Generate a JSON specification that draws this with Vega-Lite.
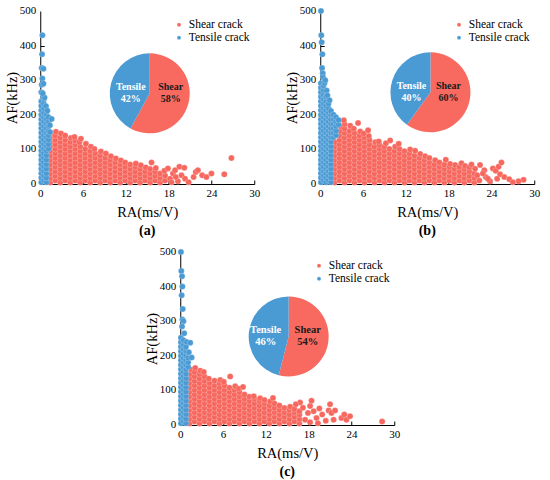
{
  "$schema": "https://vega.github.io/schema/vega-lite/v6.json",
  "background": "white",
  "padding": {"left": 4, "top": 5, "right": 5, "bottom": 2},
  "config": {
    "view": {"stroke": null},
    "font": "Liberation Serif",
    "axis": {
      "grid": false,
      "domainColor": "black",
      "tickColor": "black",
      "labelColor": "black",
      "titleColor": "black",
      "labelFont": "Liberation Serif",
      "titleFont": "Liberation Serif",
      "labelFontSize": 11,
      "titleFontSize": 14.5,
      "titleFontWeight": "normal",
      "labelOverlap": false,
      "labelFlush": false
    },
    "legend": {
      "orient": "none",
      "legendX": 133,
      "legendY": 8,
      "labelFont": "Liberation Serif",
      "labelFontSize": 11.5,
      "labelColor": "black",
      "symbolType": "circle",
      "symbolSize": 16,
      "symbolStrokeWidth": 0,
      "rowPadding": 0
    },
    "title": {"font": "Liberation Serif", "fontSize": 14, "fontWeight": "bold", "color": "black", "orient": "bottom", "anchor": "middle", "offset": 5},
    "circle": {"size": 36, "opacity": 1, "stroke": "white", "strokeWidth": 0.5, "strokeOpacity": 0.45}
  },
  "datasets": {
    "yt": [{"v": 0}, {"v": 100}, {"v": 200}, {"v": 300}, {"v": 400}, {"v": 500}],
    "pie": [
      {"p": "a", "type": "Shear", "v": 58, "o": 1, "lbl": ["Shear", "58%"]},
      {"p": "a", "type": "Tensile", "v": 42, "o": 2, "lbl": ["Tensile", "42%"]},
      {"p": "b", "type": "Shear", "v": 60, "o": 1, "lbl": ["Shear", "60%"]},
      {"p": "b", "type": "Tensile", "v": 40, "o": 2, "lbl": ["Tensile", "40%"]},
      {"p": "c", "type": "Shear", "v": 54, "o": 1, "lbl": ["Shear", "54%"]},
      {"p": "c", "type": "Tensile", "v": 46, "o": 2, "lbl": ["Tensile", "46%"]}
    ],
    "aS": [
      {"x":1.4,"y":4},{"x":1.4,"y":17},{"x":1.4,"y":30},{"x":1.4,"y":43},{"x":1.4,"y":56},{"x":1.4,"y":69},{"x":1.4,"y":82},{"x":1.4,"y":95},{"x":1.4,"y":108},{"x":1.4,"y":121},{"x":1.4,"y":134},{"x":1.5,"y":147},
      {"x":2.1,"y":10},{"x":2.1,"y":23},{"x":2.1,"y":36},{"x":2.1,"y":49},{"x":2.1,"y":62},{"x":2.1,"y":75},{"x":2.1,"y":88},{"x":2.1,"y":101},{"x":2.1,"y":114},{"x":2.1,"y":127},{"x":2.1,"y":140},{"x":2.2,"y":151},
      {"x":2.8,"y":4},{"x":2.8,"y":17},{"x":2.8,"y":30},{"x":2.8,"y":43},{"x":2.8,"y":56},{"x":2.8,"y":69},{"x":2.8,"y":82},{"x":2.8,"y":95},{"x":2.8,"y":108},{"x":2.8,"y":121},{"x":2.8,"y":134},{"x":2.9,"y":146},
      {"x":3.5,"y":10},{"x":3.5,"y":23},{"x":3.5,"y":36},{"x":3.5,"y":49},{"x":3.5,"y":62},{"x":3.5,"y":75},{"x":3.5,"y":88},{"x":3.5,"y":101},{"x":3.5,"y":114},{"x":3.5,"y":127},{"x":3.5,"y":140},
      {"x":4.2,"y":4},{"x":4.2,"y":17},{"x":4.2,"y":30},{"x":4.2,"y":43},{"x":4.2,"y":56},{"x":4.2,"y":69},{"x":4.2,"y":82},{"x":4.2,"y":95},{"x":4.2,"y":108},{"x":4.2,"y":121},{"x":4.3,"y":133},
      {"x":4.9,"y":10},{"x":4.9,"y":23},{"x":4.9,"y":36},{"x":4.9,"y":49},{"x":4.9,"y":62},{"x":4.9,"y":75},{"x":4.9,"y":88},{"x":4.9,"y":101},{"x":4.9,"y":114},{"x":4.9,"y":125},{"x":4.8,"y":136},
      {"x":5.6,"y":4},{"x":5.6,"y":17},{"x":5.6,"y":30},{"x":5.6,"y":43},{"x":5.6,"y":56},{"x":5.6,"y":69},{"x":5.6,"y":82},{"x":5.6,"y":95},{"x":5.6,"y":108},{"x":5.5,"y":121},{"x":5.7,"y":131},
      {"x":6.3,"y":10},{"x":6.3,"y":23},{"x":6.3,"y":36},{"x":6.3,"y":49},{"x":6.3,"y":62},{"x":6.3,"y":75},{"x":6.3,"y":88},{"x":6.3,"y":101},{"x":6.4,"y":116},
      {"x":7.0,"y":4},{"x":7.0,"y":17},{"x":7.0,"y":30},{"x":7.0,"y":43},{"x":7.0,"y":56},{"x":7.0,"y":69},{"x":7.0,"y":82},{"x":7.0,"y":95},{"x":7.1,"y":108},
      {"x":7.7,"y":10},{"x":7.7,"y":23},{"x":7.7,"y":36},{"x":7.7,"y":49},{"x":7.7,"y":62},{"x":7.7,"y":75},{"x":7.7,"y":88},{"x":7.6,"y":101},
      {"x":8.4,"y":4},{"x":8.4,"y":17},{"x":8.4,"y":30},{"x":8.4,"y":43},{"x":8.4,"y":56},{"x":8.4,"y":69},{"x":8.4,"y":82},{"x":8.5,"y":94},
      {"x":9.1,"y":10},{"x":9.1,"y":23},{"x":9.1,"y":36},{"x":9.1,"y":49},{"x":9.1,"y":62},{"x":9.1,"y":75},{"x":9.2,"y":88},
      {"x":9.8,"y":4},{"x":9.8,"y":17},{"x":9.8,"y":30},{"x":9.8,"y":43},{"x":9.8,"y":56},{"x":9.8,"y":69},{"x":9.9,"y":80},
      {"x":10.5,"y":10},{"x":10.5,"y":23},{"x":10.5,"y":36},{"x":10.5,"y":49},{"x":10.5,"y":62},{"x":10.6,"y":74},
      {"x":11.2,"y":4},{"x":11.2,"y":17},{"x":11.2,"y":30},{"x":11.2,"y":43},{"x":11.2,"y":56},{"x":11.3,"y":68},
      {"x":11.9,"y":10},{"x":11.9,"y":23},{"x":11.9,"y":36},{"x":11.9,"y":49},{"x":11.9,"y":62},
      {"x":12.6,"y":4},{"x":12.6,"y":17},{"x":12.6,"y":30},{"x":12.6,"y":43},{"x":12.6,"y":56},
      {"x":13.3,"y":10},{"x":13.3,"y":23},{"x":13.3,"y":36},{"x":13.3,"y":49},{"x":13.4,"y":59},
      {"x":14.0,"y":4},{"x":14.0,"y":17},{"x":14.0,"y":30},{"x":14.0,"y":43},{"x":14.1,"y":54},
      {"x":14.7,"y":10},{"x":14.7,"y":23},{"x":14.7,"y":36},{"x":14.8,"y":48},
      {"x":15.4,"y":4},{"x":15.4,"y":17},{"x":15.4,"y":30},{"x":15.4,"y":43},{"x":15.6,"y":62},
      {"x":16.1,"y":10},{"x":16.1,"y":23},{"x":16.1,"y":36},{"x":16.2,"y":46},
      {"x":16.8,"y":4},{"x":16.8,"y":17},{"x":16.8,"y":30},
      {"x":17.5,"y":10},{"x":17.5,"y":24},{"x":17.4,"y":38},
      {"x":18.2,"y":15},{"x":18.6,"y":30},{"x":18.9,"y":40},{"x":19.3,"y":8},{"x":19.5,"y":50},{"x":19.8,"y":25},{"x":20.2,"y":47},{"x":20.3,"y":15},{"x":20.8,"y":5},{"x":21.5,"y":20},{"x":21.8,"y":35},{"x":22.1,"y":40},{"x":22.7,"y":25},{"x":23.3,"y":20},{"x":24.0,"y":30},{"x":25.8,"y":28},{"x":26.8,"y":75},{"x":19.0,"y":20},{"x":17.9,"y":45},{"x":18.4,"y":5}
    ],
    "aT": [
      {"x":0.15,"y":5},{"x":0.15,"y":18},{"x":0.15,"y":31},{"x":0.15,"y":44},{"x":0.15,"y":57},{"x":0.15,"y":70},{"x":0.15,"y":83},{"x":0.15,"y":96},{"x":0.15,"y":109},{"x":0.15,"y":122},{"x":0.15,"y":135},{"x":0.15,"y":148},{"x":0.15,"y":161},{"x":0.15,"y":174},{"x":0.15,"y":187},{"x":0.15,"y":200},{"x":0.15,"y":213},{"x":0.15,"y":226},{"x":0.15,"y":239},
      {"x":0.5,"y":11},{"x":0.5,"y":24},{"x":0.5,"y":37},{"x":0.5,"y":50},{"x":0.5,"y":63},{"x":0.5,"y":76},{"x":0.5,"y":89},{"x":0.5,"y":102},{"x":0.5,"y":115},{"x":0.5,"y":128},{"x":0.5,"y":141},{"x":0.5,"y":154},{"x":0.5,"y":167},{"x":0.5,"y":180},{"x":0.5,"y":193},{"x":0.5,"y":206},{"x":0.5,"y":219},{"x":0.5,"y":232},{"x":0.5,"y":245},
      {"x":0.85,"y":5},{"x":0.85,"y":18},{"x":0.85,"y":31},{"x":0.85,"y":44},{"x":0.85,"y":57},{"x":0.85,"y":70},{"x":0.85,"y":83},{"x":0.85,"y":96},{"x":0.85,"y":109},{"x":0.85,"y":122},{"x":0.85,"y":135},{"x":0.85,"y":148},{"x":0.85,"y":161},{"x":0.85,"y":174},{"x":0.85,"y":187},{"x":0.85,"y":200},
      {"x":1.15,"y":102},{"x":1.15,"y":115},{"x":1.15,"y":128},{"x":1.15,"y":141},{"x":1.15,"y":154},{"x":1.15,"y":167},{"x":1.15,"y":180},{"x":1.15,"y":193},
      {"x":1.35,"y":150},{"x":1.35,"y":170},{"x":1.6,"y":188},{"x":0.8,"y":225},{"x":1.0,"y":212},
      {"x":0.3,"y":430},{"x":0.25,"y":375},{"x":0.2,"y":335},{"x":0.45,"y":333},{"x":0.3,"y":305},{"x":0.2,"y":287},{"x":0.45,"y":290},{"x":0.15,"y":265},{"x":0.4,"y":252},{"x":0.6,"y":250},{"x":0.35,"y":262}
    ],
    "bS": [
      {"x":2.0,"y":4},{"x":2.0,"y":17},{"x":2.0,"y":30},{"x":2.0,"y":43},{"x":2.0,"y":56},{"x":2.0,"y":69},{"x":2.0,"y":82},{"x":2.0,"y":95},{"x":2.0,"y":108},{"x":2.1,"y":121},
      {"x":2.7,"y":10},{"x":2.7,"y":23},{"x":2.7,"y":36},{"x":2.7,"y":49},{"x":2.7,"y":62},{"x":2.7,"y":75},{"x":2.7,"y":88},{"x":2.7,"y":101},{"x":2.7,"y":114},{"x":2.7,"y":127},{"x":2.7,"y":140},{"x":2.8,"y":153},{"x":2.9,"y":166},
      {"x":3.4,"y":4},{"x":3.4,"y":17},{"x":3.4,"y":30},{"x":3.4,"y":43},{"x":3.4,"y":56},{"x":3.4,"y":69},{"x":3.4,"y":82},{"x":3.4,"y":95},{"x":3.4,"y":108},{"x":3.4,"y":121},{"x":3.4,"y":134},{"x":3.4,"y":147},{"x":3.4,"y":160},{"x":3.4,"y":173},{"x":3.3,"y":184},
      {"x":4.1,"y":10},{"x":4.1,"y":23},{"x":4.1,"y":36},{"x":4.1,"y":49},{"x":4.1,"y":62},{"x":4.1,"y":75},{"x":4.1,"y":88},{"x":4.1,"y":101},{"x":4.1,"y":114},{"x":4.1,"y":127},{"x":4.1,"y":140},{"x":4.1,"y":153},{"x":4.2,"y":168},
      {"x":4.8,"y":4},{"x":4.8,"y":17},{"x":4.8,"y":30},{"x":4.8,"y":43},{"x":4.8,"y":56},{"x":4.8,"y":69},{"x":4.8,"y":82},{"x":4.8,"y":95},{"x":4.8,"y":108},{"x":4.8,"y":121},{"x":4.8,"y":134},{"x":4.8,"y":147},{"x":4.7,"y":160},
      {"x":5.5,"y":10},{"x":5.5,"y":23},{"x":5.5,"y":36},{"x":5.5,"y":49},{"x":5.5,"y":62},{"x":5.5,"y":75},{"x":5.5,"y":88},{"x":5.5,"y":101},{"x":5.5,"y":114},{"x":5.5,"y":127},{"x":5.5,"y":140},{"x":5.6,"y":152},{"x":5.3,"y":176},
      {"x":6.2,"y":4},{"x":6.2,"y":17},{"x":6.2,"y":30},{"x":6.2,"y":43},{"x":6.2,"y":56},{"x":6.2,"y":69},{"x":6.2,"y":82},{"x":6.2,"y":95},{"x":6.2,"y":108},{"x":6.2,"y":121},{"x":6.2,"y":134},{"x":6.1,"y":146},
      {"x":6.9,"y":10},{"x":6.9,"y":23},{"x":6.9,"y":36},{"x":6.9,"y":49},{"x":6.9,"y":62},{"x":6.9,"y":75},{"x":6.9,"y":88},{"x":6.9,"y":101},{"x":6.9,"y":114},{"x":6.9,"y":127},{"x":6.8,"y":139},{"x":6.7,"y":155},
      {"x":7.6,"y":4},{"x":7.6,"y":17},{"x":7.6,"y":30},{"x":7.6,"y":43},{"x":7.6,"y":56},{"x":7.6,"y":69},{"x":7.6,"y":82},{"x":7.6,"y":95},{"x":7.6,"y":108},{"x":7.7,"y":121},
      {"x":8.3,"y":10},{"x":8.3,"y":23},{"x":8.3,"y":36},{"x":8.3,"y":49},{"x":8.3,"y":62},{"x":8.3,"y":75},{"x":8.3,"y":88},{"x":8.3,"y":101},{"x":8.3,"y":113},{"x":8.2,"y":123},
      {"x":9.0,"y":4},{"x":9.0,"y":17},{"x":9.0,"y":30},{"x":9.0,"y":43},{"x":9.0,"y":56},{"x":9.0,"y":69},{"x":9.0,"y":82},{"x":9.0,"y":95},{"x":9.0,"y":108},{"x":9.2,"y":118},
      {"x":9.7,"y":10},{"x":9.7,"y":23},{"x":9.7,"y":36},{"x":9.7,"y":49},{"x":9.7,"y":62},{"x":9.7,"y":75},{"x":9.7,"y":88},{"x":9.7,"y":101},{"x":9.8,"y":126},
      {"x":10.4,"y":4},{"x":10.4,"y":17},{"x":10.4,"y":30},{"x":10.4,"y":43},{"x":10.4,"y":56},{"x":10.4,"y":69},{"x":10.4,"y":82},{"x":10.4,"y":95},{"x":10.5,"y":108},
      {"x":11.1,"y":10},{"x":11.1,"y":23},{"x":11.1,"y":36},{"x":11.1,"y":49},{"x":11.1,"y":62},{"x":11.1,"y":75},{"x":11.1,"y":88},{"x":11.1,"y":101},{"x":11.0,"y":116},
      {"x":11.8,"y":4},{"x":11.8,"y":17},{"x":11.8,"y":30},{"x":11.8,"y":43},{"x":11.8,"y":56},{"x":11.8,"y":69},{"x":11.8,"y":82},{"x":11.8,"y":95},
      {"x":12.5,"y":10},{"x":12.5,"y":23},{"x":12.5,"y":36},{"x":12.5,"y":49},{"x":12.5,"y":62},{"x":12.5,"y":75},{"x":12.5,"y":88},{"x":12.6,"y":100},
      {"x":13.2,"y":4},{"x":13.2,"y":17},{"x":13.2,"y":30},{"x":13.2,"y":43},{"x":13.2,"y":56},{"x":13.2,"y":69},{"x":13.2,"y":82},{"x":13.3,"y":96},
      {"x":13.9,"y":10},{"x":13.9,"y":23},{"x":13.9,"y":36},{"x":13.9,"y":49},{"x":13.9,"y":62},{"x":13.9,"y":75},{"x":14.0,"y":87},
      {"x":14.6,"y":4},{"x":14.6,"y":17},{"x":14.6,"y":30},{"x":14.6,"y":43},{"x":14.6,"y":56},{"x":14.6,"y":69},{"x":14.7,"y":80},
      {"x":15.3,"y":10},{"x":15.3,"y":23},{"x":15.3,"y":36},{"x":15.3,"y":49},{"x":15.3,"y":62},{"x":15.3,"y":75},
      {"x":16.0,"y":4},{"x":16.0,"y":17},{"x":16.0,"y":30},{"x":16.0,"y":43},{"x":16.0,"y":56},{"x":16.1,"y":69},
      {"x":16.7,"y":10},{"x":16.7,"y":23},{"x":16.7,"y":36},{"x":16.7,"y":49},{"x":16.7,"y":62},
      {"x":17.4,"y":4},{"x":17.4,"y":17},{"x":17.4,"y":30},{"x":17.4,"y":43},{"x":17.4,"y":56},{"x":17.6,"y":70},
      {"x":18.1,"y":10},{"x":18.1,"y":23},{"x":18.1,"y":36},{"x":18.1,"y":49},{"x":18.2,"y":58},
      {"x":18.8,"y":4},{"x":18.8,"y":17},{"x":18.8,"y":30},{"x":18.8,"y":43},{"x":18.9,"y":55},
      {"x":19.5,"y":10},{"x":19.5,"y":23},{"x":19.5,"y":36},{"x":19.5,"y":49},{"x":19.8,"y":60},
      {"x":20.2,"y":4},{"x":20.2,"y":17},{"x":20.2,"y":30},{"x":20.2,"y":43},{"x":20.3,"y":52},
      {"x":20.9,"y":10},{"x":20.9,"y":23},{"x":20.9,"y":36},{"x":20.9,"y":48},{"x":21.2,"y":56},
      {"x":21.6,"y":4},{"x":21.6,"y":17},{"x":21.6,"y":30},{"x":21.7,"y":44},
      {"x":22.3,"y":10},{"x":22.4,"y":55},{"x":22.0,"y":25},{"x":23.0,"y":40},{"x":23.2,"y":20},{"x":23.8,"y":8},{"x":24.2,"y":45},{"x":24.6,"y":38},{"x":25.0,"y":50},{"x":25.4,"y":62},{"x":25.2,"y":28},{"x":24.8,"y":15},{"x":25.8,"y":20},{"x":26.5,"y":14},{"x":27.0,"y":5},{"x":28.5,"y":12},{"x":27.8,"y":8},{"x":22.8,"y":30},{"x":23.5,"y":15}
    ],
    "bT": [
      {"x":0.1,"y":5},{"x":0.1,"y":18},{"x":0.1,"y":31},{"x":0.1,"y":44},{"x":0.1,"y":57},{"x":0.1,"y":70},{"x":0.1,"y":83},{"x":0.1,"y":96},{"x":0.1,"y":109},{"x":0.1,"y":122},{"x":0.1,"y":135},{"x":0.1,"y":148},{"x":0.1,"y":161},{"x":0.1,"y":174},{"x":0.1,"y":187},{"x":0.1,"y":200},{"x":0.1,"y":213},{"x":0.1,"y":226},{"x":0.1,"y":239},{"x":0.1,"y":252},{"x":0.1,"y":265},{"x":0.1,"y":278},{"x":0.1,"y":291},
      {"x":0.45,"y":11},{"x":0.45,"y":24},{"x":0.45,"y":37},{"x":0.45,"y":50},{"x":0.45,"y":63},{"x":0.45,"y":76},{"x":0.45,"y":89},{"x":0.45,"y":102},{"x":0.45,"y":115},{"x":0.45,"y":128},{"x":0.45,"y":141},{"x":0.45,"y":154},{"x":0.45,"y":167},{"x":0.45,"y":180},{"x":0.45,"y":193},{"x":0.45,"y":206},{"x":0.45,"y":219},{"x":0.45,"y":232},{"x":0.45,"y":245},{"x":0.45,"y":258},{"x":0.45,"y":271},{"x":0.45,"y":284},
      {"x":0.8,"y":5},{"x":0.8,"y":18},{"x":0.8,"y":31},{"x":0.8,"y":44},{"x":0.8,"y":57},{"x":0.8,"y":70},{"x":0.8,"y":83},{"x":0.8,"y":96},{"x":0.8,"y":109},{"x":0.8,"y":122},{"x":0.8,"y":135},{"x":0.8,"y":148},{"x":0.8,"y":161},{"x":0.8,"y":174},{"x":0.8,"y":187},{"x":0.8,"y":200},{"x":0.8,"y":213},{"x":0.8,"y":226},{"x":0.8,"y":239},{"x":0.8,"y":252},
      {"x":1.15,"y":11},{"x":1.15,"y":24},{"x":1.15,"y":37},{"x":1.15,"y":50},{"x":1.15,"y":63},{"x":1.15,"y":76},{"x":1.15,"y":89},{"x":1.15,"y":102},{"x":1.15,"y":115},{"x":1.15,"y":128},{"x":1.15,"y":141},{"x":1.15,"y":154},{"x":1.15,"y":167},{"x":1.15,"y":180},{"x":1.15,"y":193},{"x":1.15,"y":206},{"x":1.15,"y":219},{"x":1.15,"y":232},
      {"x":1.5,"y":5},{"x":1.5,"y":18},{"x":1.5,"y":31},{"x":1.5,"y":44},{"x":1.5,"y":57},{"x":1.5,"y":70},{"x":1.5,"y":83},{"x":1.5,"y":96},{"x":1.5,"y":109},{"x":1.5,"y":122},{"x":1.5,"y":135},{"x":1.5,"y":148},{"x":1.5,"y":161},{"x":1.5,"y":174},{"x":1.5,"y":187},{"x":1.5,"y":200},{"x":1.5,"y":211},
      {"x":1.85,"y":135},{"x":1.85,"y":148},{"x":1.85,"y":161},{"x":1.85,"y":174},{"x":1.85,"y":187},{"x":1.85,"y":200},
      {"x":2.2,"y":141},{"x":2.2,"y":154},{"x":2.2,"y":167},{"x":2.2,"y":180},{"x":2.2,"y":193},
      {"x":2.55,"y":172},{"x":2.55,"y":185},
      {"x":0.1,"y":500},{"x":0.15,"y":430},{"x":0.2,"y":410},{"x":0.3,"y":375},{"x":0.25,"y":335},{"x":0.35,"y":320},{"x":0.4,"y":308},{"x":0.6,"y":292},{"x":0.9,"y":270},{"x":1.0,"y":256},{"x":1.3,"y":242},{"x":0.7,"y":300}
    ],
    "cS": [
      {"x":1.3,"y":4},{"x":1.3,"y":17},{"x":1.3,"y":30},{"x":1.3,"y":43},{"x":1.3,"y":56},{"x":1.3,"y":69},{"x":1.3,"y":82},{"x":1.3,"y":95},{"x":1.3,"y":108},{"x":1.3,"y":121},{"x":1.3,"y":134},{"x":1.4,"y":147},{"x":1.5,"y":160},
      {"x":2.0,"y":10},{"x":2.0,"y":23},{"x":2.0,"y":36},{"x":2.0,"y":49},{"x":2.0,"y":62},{"x":2.0,"y":75},{"x":2.0,"y":88},{"x":2.0,"y":101},{"x":2.0,"y":114},{"x":2.0,"y":127},{"x":2.0,"y":140},{"x":2.0,"y":153},{"x":2.1,"y":165},
      {"x":2.7,"y":4},{"x":2.7,"y":17},{"x":2.7,"y":30},{"x":2.7,"y":43},{"x":2.7,"y":56},{"x":2.7,"y":69},{"x":2.7,"y":82},{"x":2.7,"y":95},{"x":2.7,"y":108},{"x":2.7,"y":121},{"x":2.7,"y":134},{"x":2.7,"y":147},{"x":2.8,"y":157},
      {"x":3.4,"y":10},{"x":3.4,"y":23},{"x":3.4,"y":36},{"x":3.4,"y":49},{"x":3.4,"y":62},{"x":3.4,"y":75},{"x":3.4,"y":88},{"x":3.4,"y":101},{"x":3.4,"y":114},{"x":3.4,"y":127},{"x":3.4,"y":140},{"x":3.3,"y":153},
      {"x":4.1,"y":4},{"x":4.1,"y":17},{"x":4.1,"y":30},{"x":4.1,"y":43},{"x":4.1,"y":56},{"x":4.1,"y":69},{"x":4.1,"y":82},{"x":4.1,"y":95},{"x":4.1,"y":108},{"x":4.1,"y":121},{"x":4.0,"y":134},
      {"x":4.8,"y":10},{"x":4.8,"y":23},{"x":4.8,"y":36},{"x":4.8,"y":49},{"x":4.8,"y":62},{"x":4.8,"y":75},{"x":4.8,"y":88},{"x":4.8,"y":101},{"x":4.8,"y":114},{"x":4.8,"y":128},
      {"x":5.5,"y":4},{"x":5.5,"y":17},{"x":5.5,"y":30},{"x":5.5,"y":43},{"x":5.5,"y":56},{"x":5.5,"y":69},{"x":5.5,"y":82},{"x":5.5,"y":95},{"x":5.5,"y":108},{"x":5.5,"y":121},{"x":5.6,"y":130},
      {"x":6.2,"y":10},{"x":6.2,"y":23},{"x":6.2,"y":36},{"x":6.2,"y":49},{"x":6.2,"y":62},{"x":6.2,"y":75},{"x":6.2,"y":88},{"x":6.2,"y":101},{"x":6.2,"y":114},{"x":6.1,"y":125},
      {"x":6.9,"y":4},{"x":6.9,"y":17},{"x":6.9,"y":30},{"x":6.9,"y":43},{"x":6.9,"y":56},{"x":6.9,"y":69},{"x":6.9,"y":82},{"x":6.9,"y":95},{"x":6.9,"y":108},{"x":7.0,"y":140},
      {"x":7.6,"y":10},{"x":7.6,"y":23},{"x":7.6,"y":36},{"x":7.6,"y":49},{"x":7.6,"y":62},{"x":7.6,"y":75},{"x":7.6,"y":88},{"x":7.6,"y":101},{"x":7.7,"y":112},
      {"x":8.3,"y":4},{"x":8.3,"y":17},{"x":8.3,"y":30},{"x":8.3,"y":43},{"x":8.3,"y":56},{"x":8.3,"y":69},{"x":8.3,"y":82},{"x":8.3,"y":95},{"x":8.2,"y":105},
      {"x":9.0,"y":10},{"x":9.0,"y":23},{"x":9.0,"y":36},{"x":9.0,"y":49},{"x":9.0,"y":62},{"x":9.0,"y":75},{"x":9.0,"y":88},{"x":8.8,"y":110},
      {"x":9.7,"y":4},{"x":9.7,"y":17},{"x":9.7,"y":30},{"x":9.7,"y":43},{"x":9.7,"y":56},{"x":9.7,"y":69},{"x":9.7,"y":82},
      {"x":10.4,"y":10},{"x":10.4,"y":23},{"x":10.4,"y":36},{"x":10.4,"y":49},{"x":10.4,"y":62},{"x":10.4,"y":75},{"x":10.3,"y":83},
      {"x":11.1,"y":4},{"x":11.1,"y":17},{"x":11.1,"y":30},{"x":11.1,"y":43},{"x":11.1,"y":56},{"x":11.1,"y":69},{"x":11.2,"y":77},
      {"x":11.8,"y":10},{"x":11.8,"y":23},{"x":11.8,"y":36},{"x":11.8,"y":49},{"x":11.8,"y":62},{"x":11.8,"y":72},
      {"x":12.5,"y":4},{"x":12.5,"y":17},{"x":12.5,"y":30},{"x":12.5,"y":43},{"x":12.5,"y":56},{"x":12.6,"y":68},
      {"x":13.2,"y":10},{"x":13.2,"y":23},{"x":13.2,"y":36},{"x":13.2,"y":49},{"x":13.2,"y":62},{"x":13.0,"y":78},
      {"x":13.9,"y":4},{"x":13.9,"y":17},{"x":13.9,"y":30},{"x":13.9,"y":43},{"x":13.9,"y":56},
      {"x":14.6,"y":10},{"x":14.6,"y":23},{"x":14.6,"y":36},{"x":14.6,"y":49},
      {"x":15.3,"y":4},{"x":15.3,"y":17},{"x":15.3,"y":30},{"x":15.3,"y":43},{"x":15.4,"y":53},
      {"x":16.0,"y":10},{"x":16.0,"y":23},{"x":16.0,"y":36},{"x":16.0,"y":46},
      {"x":16.7,"y":4},{"x":16.7,"y":17},{"x":16.7,"y":30},{"x":16.7,"y":40},
      {"x":16.8,"y":65},{"x":17.5,"y":15},{"x":17.9,"y":35},{"x":18.2,"y":55},{"x":18.4,"y":70},{"x":18.7,"y":40},{"x":18.2,"y":8},{"x":19.1,"y":20},{"x":19.5,"y":48},{"x":19.9,"y":30},{"x":20.4,"y":12},{"x":20.8,"y":42},{"x":21.0,"y":60},{"x":21.2,"y":35},{"x":21.5,"y":15},{"x":21.7,"y":42},{"x":22.6,"y":20},{"x":23.0,"y":30},{"x":23.3,"y":15},{"x":23.8,"y":25},{"x":28.3,"y":10},{"x":17.2,"y":50},{"x":16.2,"y":60},{"x":19.3,"y":5}
    ],
    "cT": [
      {"x":0.1,"y":5},{"x":0.1,"y":18},{"x":0.1,"y":31},{"x":0.1,"y":44},{"x":0.1,"y":57},{"x":0.1,"y":70},{"x":0.1,"y":83},{"x":0.1,"y":96},{"x":0.1,"y":109},{"x":0.1,"y":122},{"x":0.1,"y":135},{"x":0.1,"y":148},{"x":0.1,"y":161},{"x":0.1,"y":174},{"x":0.1,"y":187},{"x":0.1,"y":200},{"x":0.1,"y":213},{"x":0.1,"y":226},{"x":0.1,"y":239},{"x":0.1,"y":252},
      {"x":0.45,"y":11},{"x":0.45,"y":24},{"x":0.45,"y":37},{"x":0.45,"y":50},{"x":0.45,"y":63},{"x":0.45,"y":76},{"x":0.45,"y":89},{"x":0.45,"y":102},{"x":0.45,"y":115},{"x":0.45,"y":128},{"x":0.45,"y":141},{"x":0.45,"y":154},{"x":0.45,"y":167},{"x":0.45,"y":180},{"x":0.45,"y":193},{"x":0.45,"y":206},{"x":0.45,"y":219},{"x":0.45,"y":232},{"x":0.45,"y":245},
      {"x":0.8,"y":5},{"x":0.8,"y":18},{"x":0.8,"y":31},{"x":0.8,"y":44},{"x":0.8,"y":57},{"x":0.8,"y":70},{"x":0.8,"y":83},{"x":0.8,"y":96},{"x":0.8,"y":109},{"x":0.8,"y":122},{"x":0.8,"y":135},{"x":0.8,"y":148},{"x":0.8,"y":161},{"x":0.8,"y":174},{"x":0.8,"y":187},{"x":0.8,"y":200},{"x":0.8,"y":213},{"x":0.8,"y":226},
      {"x":1.1,"y":168},{"x":1.1,"y":181},{"x":1.1,"y":194},
      {"x":0.1,"y":500},{"x":0.15,"y":445},{"x":0.25,"y":430},{"x":0.3,"y":400},{"x":0.2,"y":375},{"x":0.35,"y":335},{"x":0.3,"y":305},{"x":0.45,"y":300},{"x":0.25,"y":285},{"x":0.55,"y":265},{"x":0.9,"y":240},{"x":1.4,"y":238},{"x":1.2,"y":210},{"x":1.6,"y":195}
    ]
  },
  "resolve": {"legend": {"color": "independent"}},
  "center": true,
  "spacing": 8,
  "vconcat": [
    {
      "resolve": {"legend": {"color": "independent"}},
      "spacing": 24,
      "hconcat": [
        {
          "width": 214, "height": 173,
          "title": {"text": "(a)"},
          "layer": [
            {"data": {"name": "aS"}, "mark": {"type": "circle"},
             "encoding": {
               "x": {"field": "x", "type": "quantitative", "title": "RA(ms/V)", "scale": {"domain": [0, 30], "nice": false},
                     "axis": {"values": [0,3,6,9,12,15,18,21,24,27,30], "labelExpr": "datum.value % 6 == 0 ? datum.label : ''", "tickSize": {"condition": {"test": "datum.value % 6 == 0", "value": -4}, "value": -2}, "labelPadding": 7, "titlePadding": 7}},
               "y": {"field": "y", "type": "quantitative", "title": "AF(kHz)", "scale": {"domain": [0, 500], "nice": false},
                     "axis": {"values": [0,50,100,150,200,250,300,350,400,450,500], "labels": false, "tickSize": {"condition": {"test": "datum.value % 100 == 0", "value": -4}, "value": -2}, "titlePadding": 20}},
               "color": {"datum": "Shear crack", "title": null, "scale": {"domain": ["Shear crack", "Tensile crack"], "range": ["#F6675E", "#4A9AD4"]}}
             }},
            {"data": {"name": "aT"}, "mark": {"type": "circle"},
             "encoding": {
               "x": {"field": "x", "type": "quantitative", "title": "RA(ms/V)"},
               "y": {"field": "y", "type": "quantitative", "title": "AF(kHz)"},
               "color": {"datum": "Tensile crack", "title": null}
             }},
            {"data": {"name": "yt"}, "mark": {"type": "text", "align": "right", "baseline": "middle", "dx": -4, "font": "Liberation Serif", "fontSize": 11, "color": "black"},
             "encoding": {
               "x": {"datum": 0, "type": "quantitative", "title": "RA(ms/V)"},
               "y": {"field": "v", "type": "quantitative", "title": "AF(kHz)"},
               "text": {"field": "v", "type": "quantitative"}
             }},
            {"data": {"name": "pie"}, "transform": [{"filter": "datum.p == 'a'"}],
             "mark": {"type": "arc", "radius": 40},
             "encoding": {
               "x": {"datum": 15.35, "type": "quantitative", "title": "RA(ms/V)"},
               "y": {"datum": 262, "type": "quantitative", "title": "AF(kHz)"},
               "theta": {"field": "v", "type": "quantitative", "stack": true},
               "order": {"field": "o"},
               "fill": {"field": "type", "type": "nominal", "legend": null, "scale": {"domain": ["Shear", "Tensile"], "range": ["#F8695F", "#4A9AD4"]}}
             }},
            {"data": {"name": "pie"}, "transform": [{"filter": "datum.p == 'a' && datum.type == 'Tensile'"}],
             "mark": {"type": "text", "dx": -19, "dy": -6, "font": "Liberation Serif", "fontWeight": "bold", "fontSize": 10, "lineHeight": 12, "color": "white", "baseline": "middle"},
             "encoding": {
               "x": {"datum": 15.35, "type": "quantitative", "title": "RA(ms/V)"},
               "y": {"datum": 262, "type": "quantitative", "title": "AF(kHz)"},
               "text": {"field": "lbl"}
             }},
            {"data": {"name": "pie"}, "transform": [{"filter": "datum.p == 'a' && datum.type == 'Shear'"}],
             "mark": {"type": "text", "dx": 21, "dy": -6, "font": "Liberation Serif", "fontWeight": "bold", "fontSize": 10, "lineHeight": 12, "color": "#1a1a1a", "baseline": "middle"},
             "encoding": {
               "x": {"datum": 15.35, "type": "quantitative", "title": "RA(ms/V)"},
               "y": {"datum": 262, "type": "quantitative", "title": "AF(kHz)"},
               "text": {"field": "lbl"}
             }}
          ]
        },
        {
          "width": 214, "height": 173,
          "title": {"text": "(b)"},
          "layer": [
            {"data": {"name": "bS"}, "mark": {"type": "circle"},
             "encoding": {
               "x": {"field": "x", "type": "quantitative", "title": "RA(ms/V)", "scale": {"domain": [0, 30], "nice": false},
                     "axis": {"values": [0,3,6,9,12,15,18,21,24,27,30], "labelExpr": "datum.value % 6 == 0 ? datum.label : ''", "tickSize": {"condition": {"test": "datum.value % 6 == 0", "value": -4}, "value": -2}, "labelPadding": 7, "titlePadding": 7}},
               "y": {"field": "y", "type": "quantitative", "title": "AF(kHz)", "scale": {"domain": [0, 500], "nice": false},
                     "axis": {"values": [0,50,100,150,200,250,300,350,400,450,500], "labels": false, "tickSize": {"condition": {"test": "datum.value % 100 == 0", "value": -4}, "value": -2}, "titlePadding": 20}},
               "color": {"datum": "Shear crack", "title": null, "scale": {"domain": ["Shear crack", "Tensile crack"], "range": ["#F6675E", "#4A9AD4"]}}
             }},
            {"data": {"name": "bT"}, "mark": {"type": "circle"},
             "encoding": {
               "x": {"field": "x", "type": "quantitative", "title": "RA(ms/V)"},
               "y": {"field": "y", "type": "quantitative", "title": "AF(kHz)"},
               "color": {"datum": "Tensile crack", "title": null}
             }},
            {"data": {"name": "yt"}, "mark": {"type": "text", "align": "right", "baseline": "middle", "dx": -4, "font": "Liberation Serif", "fontSize": 11, "color": "black"},
             "encoding": {
               "x": {"datum": 0, "type": "quantitative", "title": "RA(ms/V)"},
               "y": {"field": "v", "type": "quantitative", "title": "AF(kHz)"},
               "text": {"field": "v", "type": "quantitative"}
             }},
            {"data": {"name": "pie"}, "transform": [{"filter": "datum.p == 'b'"}],
             "mark": {"type": "arc", "radius": 40},
             "encoding": {
               "x": {"datum": 15.45, "type": "quantitative", "title": "RA(ms/V)"},
               "y": {"datum": 265, "type": "quantitative", "title": "AF(kHz)"},
               "theta": {"field": "v", "type": "quantitative", "stack": true},
               "order": {"field": "o"},
               "fill": {"field": "type", "type": "nominal", "legend": null, "scale": {"domain": ["Shear", "Tensile"], "range": ["#F8695F", "#4A9AD4"]}}
             }},
            {"data": {"name": "pie"}, "transform": [{"filter": "datum.p == 'b' && datum.type == 'Tensile'"}],
             "mark": {"type": "text", "dx": -19, "dy": -6, "font": "Liberation Serif", "fontWeight": "bold", "fontSize": 10, "lineHeight": 12, "color": "white", "baseline": "middle"},
             "encoding": {
               "x": {"datum": 15.45, "type": "quantitative", "title": "RA(ms/V)"},
               "y": {"datum": 265, "type": "quantitative", "title": "AF(kHz)"},
               "text": {"field": "lbl"}
             }},
            {"data": {"name": "pie"}, "transform": [{"filter": "datum.p == 'b' && datum.type == 'Shear'"}],
             "mark": {"type": "text", "dx": 18, "dy": -6, "font": "Liberation Serif", "fontWeight": "bold", "fontSize": 10, "lineHeight": 12, "color": "#1a1a1a", "baseline": "middle"},
             "encoding": {
               "x": {"datum": 15.45, "type": "quantitative", "title": "RA(ms/V)"},
               "y": {"datum": 265, "type": "quantitative", "title": "AF(kHz)"},
               "text": {"field": "lbl"}
             }}
          ]
        }
      ]
    },
    {
      "width": 214, "height": 173,
      "title": {"text": "(c)"},
      "layer": [
        {"data": {"name": "cS"}, "mark": {"type": "circle"},
         "encoding": {
           "x": {"field": "x", "type": "quantitative", "title": "RA(ms/V)", "scale": {"domain": [0, 30], "nice": false},
                 "axis": {"values": [0,3,6,9,12,15,18,21,24,27,30], "labelExpr": "datum.value % 6 == 0 ? datum.label : ''", "tickSize": {"condition": {"test": "datum.value % 6 == 0", "value": -4}, "value": -2}, "labelPadding": 7, "titlePadding": 7}},
           "y": {"field": "y", "type": "quantitative", "title": "AF(kHz)", "scale": {"domain": [0, 500], "nice": false},
                 "axis": {"values": [0,50,100,150,200,250,300,350,400,450,500], "labels": false, "tickSize": {"condition": {"test": "datum.value % 100 == 0", "value": -4}, "value": -2}, "titlePadding": 20}},
           "color": {"datum": "Shear crack", "title": null, "scale": {"domain": ["Shear crack", "Tensile crack"], "range": ["#F6675E", "#4A9AD4"]}}
         }},
        {"data": {"name": "cT"}, "mark": {"type": "circle"},
         "encoding": {
           "x": {"field": "x", "type": "quantitative", "title": "RA(ms/V)"},
           "y": {"field": "y", "type": "quantitative", "title": "AF(kHz)"},
           "color": {"datum": "Tensile crack", "title": null}
         }},
        {"data": {"name": "yt"}, "mark": {"type": "text", "align": "right", "baseline": "middle", "dx": -4, "font": "Liberation Serif", "fontSize": 11, "color": "black"},
         "encoding": {
           "x": {"datum": 0, "type": "quantitative", "title": "RA(ms/V)"},
           "y": {"field": "v", "type": "quantitative", "title": "AF(kHz)"},
           "text": {"field": "v", "type": "quantitative"}
         }},
        {"data": {"name": "pie"}, "transform": [{"filter": "datum.p == 'c'"}],
         "mark": {"type": "arc", "radius": 40},
         "encoding": {
           "x": {"datum": 15.2, "type": "quantitative", "title": "RA(ms/V)"},
           "y": {"datum": 256, "type": "quantitative", "title": "AF(kHz)"},
           "theta": {"field": "v", "type": "quantitative", "stack": true},
           "order": {"field": "o"},
           "fill": {"field": "type", "type": "nominal", "legend": null, "scale": {"domain": ["Shear", "Tensile"], "range": ["#F8695F", "#4A9AD4"]}}
         }},
        {"data": {"name": "pie"}, "transform": [{"filter": "datum.p == 'c' && datum.type == 'Tensile'"}],
         "mark": {"type": "text", "dx": -23, "dy": -6, "font": "Liberation Serif", "fontWeight": "bold", "fontSize": 10.5, "lineHeight": 12, "color": "white", "baseline": "middle"},
         "encoding": {
           "x": {"datum": 15.2, "type": "quantitative", "title": "RA(ms/V)"},
           "y": {"datum": 256, "type": "quantitative", "title": "AF(kHz)"},
           "text": {"field": "lbl"}
         }},
        {"data": {"name": "pie"}, "transform": [{"filter": "datum.p == 'c' && datum.type == 'Shear'"}],
         "mark": {"type": "text", "dx": 19, "dy": -6, "font": "Liberation Serif", "fontWeight": "bold", "fontSize": 10.5, "lineHeight": 12, "color": "#1a1a1a", "baseline": "middle"},
         "encoding": {
           "x": {"datum": 15.2, "type": "quantitative", "title": "RA(ms/V)"},
           "y": {"datum": 256, "type": "quantitative", "title": "AF(kHz)"},
           "text": {"field": "lbl"}
         }}
      ]
    }
  ]
}
